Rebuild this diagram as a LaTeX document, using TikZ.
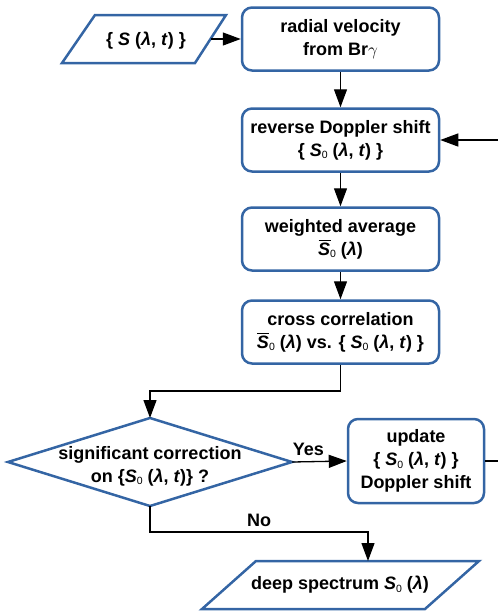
\documentclass[tikz,border=0pt]{standalone}
\usepackage{fontspec}
\setmainfont{Liberation Sans}
\usetikzlibrary{arrows.meta}
\definecolor{boxblue}{RGB}{52,101,164}
\newcommand{\subzero}{\raisebox{-2.5pt}{\fontsize{10.5}{10.5}\selectfont\mdseries\upshape 0}}
\newcommand{\Sbar}{\makebox[0pt][l]{\hspace{0.5pt}\rule[14pt]{12pt}{1.4pt}}\textit{S}\subzero}
\newcommand{\Szero}{\textit{S}\subzero}
\begin{document}
\begin{tikzpicture}[x=1pt,y=-1pt,
  every node/.style={font=\fontsize{18}{23}\selectfont\bfseries, align=center, inner sep=0pt},
  procbox/.style={draw=boxblue, line width=2.5pt, rounded corners=10pt, minimum width=197pt, minimum height=63pt},
  shapeline/.style={draw=boxblue, line width=2.5pt, line join=miter},
  conn/.style={line width=1.3pt, -{Triangle[length=18pt,width=13pt]}},
  plainconn/.style={line width=1.3pt}]
\useasboundingbox (0,0) rectangle (498,611);
% input parallelogram
\coordinate (i1) at (95,15); \coordinate (i2) at (226,15);
\coordinate (i3) at (195,63); \coordinate (i4) at (62,63);
\draw[shapeline] (i1) -- (i2) -- (i3) -- (i4) -- cycle;
\node (inp) at (146,41) {\{ \textit{S} (\textit{λ}, \textit{t}) \}};
\coordinate (inpR) at (210.5,39);
% boxes
\node[procbox] (radial) at (340.5,39) {radial velocity\\from Br{\fontsize{19}{23}\selectfont$\gamma$}};
\node[procbox] (reverse) at (340.5,140) {reverse Doppler shift\\\{ \Szero{} (\textit{λ}, \textit{t}) \}};
\node[procbox] (weighted) at (340.5,239) {weighted average\\\Sbar{} (\textit{λ})};
\node[procbox] (cross) at (340.5,332) {cross correlation\\\Sbar{} (\textit{λ}) vs. \{ \Szero{} (\textit{λ}, \textit{t}) \}};
\node[procbox, minimum width=136pt, minimum height=84pt] (update) at (416,461) {update\\\{ \Szero{} (\textit{λ}, \textit{t}) \}\\Doppler shift};
% diamond
\coordinate (dL) at (8,462); \coordinate (dT) at (150,418);
\coordinate (dR) at (292,462); \coordinate (dB) at (150,506);
\draw[shapeline] (dL) -- (dT) -- (dR) -- (dB) -- cycle;
\node (decide) at (150,466) {significant correction\\on \{\Szero{} (\textit{λ}, \textit{t})\} ?};
% output parallelogram
\coordinate (o1) at (256,561); \coordinate (o2) at (479,561);
\coordinate (o3) at (425,609); \coordinate (o4) at (202,609);
\draw[shapeline] (o1) -- (o2) -- (o3) -- (o4) -- cycle;
\node (out) at (340,585) {deep spectrum \Szero{} (\textit{λ})};
\coordinate (outT) at (368,561);
% connectors
\draw[conn] (inpR) -- (radial.west);
\draw[conn] (radial.south) -- (reverse.north);
\draw[conn] (reverse.south) -- (weighted.north);
\draw[conn] (weighted.south) -- (cross.north);
\coordinate (bend1) at (340.5,391);
\draw[conn] (cross.south) -- (bend1) -| (dT);
\draw[conn] (dR) -- node[above=5pt, pos=0.3] (yes) {Yes} (update.west);
\coordinate (bend2) at (150,532);
\draw[conn] (dB) -- (bend2) -| (outT);
\node (no) at (259,520) {No};
\coordinate (fbR) at (530,461);
\draw[conn] (update.east) -- (fbR) |- (reverse.east);
\end{tikzpicture}
\end{document}
